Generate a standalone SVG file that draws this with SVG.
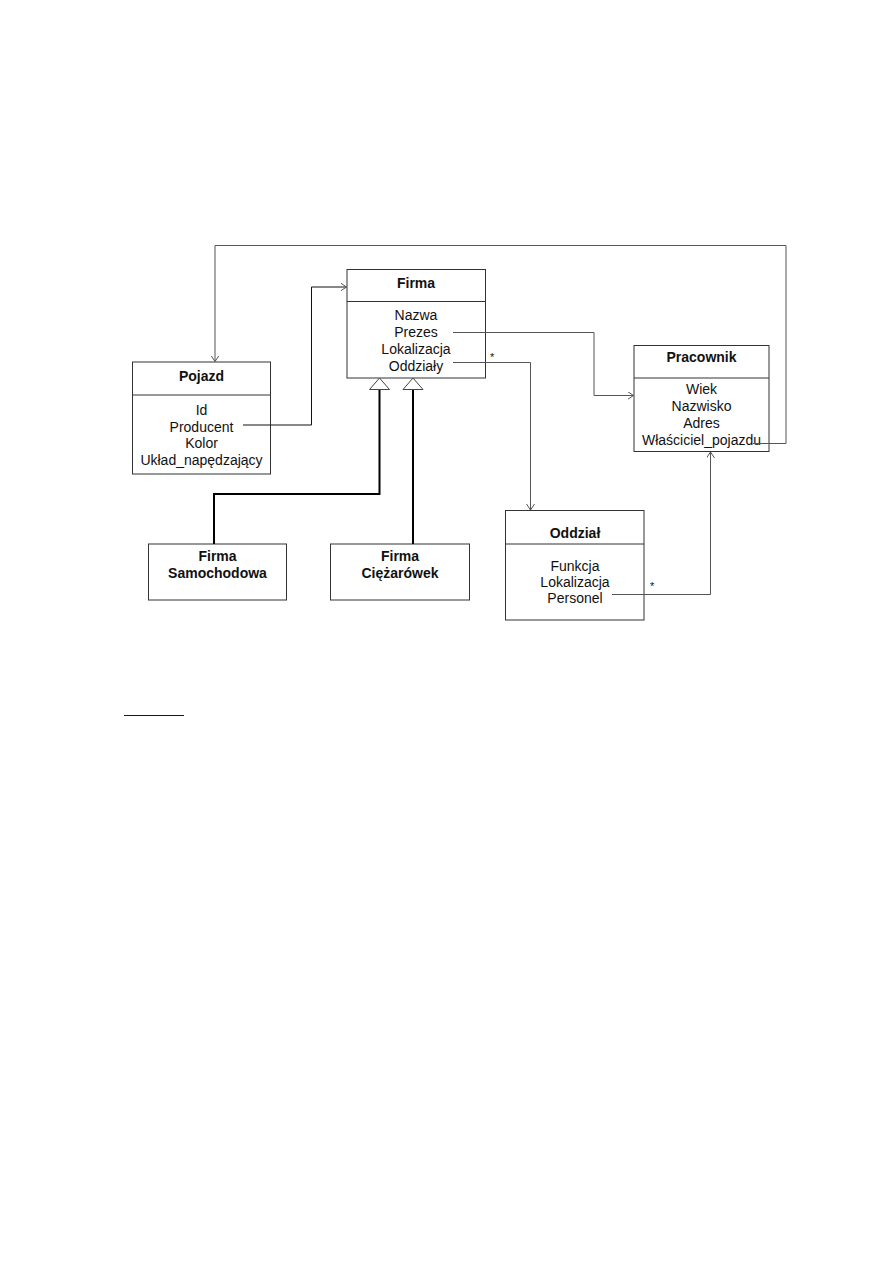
<svg xmlns="http://www.w3.org/2000/svg" width="893" height="1263" viewBox="0 0 893 1263">
<style>
.box{fill:#fff;stroke:#333;stroke-width:1}
.div{stroke:#333;stroke-width:1}
.t{font-family:"Liberation Sans",Arial,sans-serif;font-size:14px;fill:#111;text-anchor:middle}
.b{font-weight:bold}
.c{fill:none;stroke:#555;stroke-width:1}
.g{fill:none;stroke:#000;stroke-width:2}
.tri{fill:#fff;stroke:#444;stroke-width:1}
.s{font-family:"Liberation Sans",Arial,sans-serif;font-size:11px;fill:#111}
</style>
<defs>
<marker id="arr" markerWidth="8" markerHeight="10" refX="6" refY="4" orient="auto" markerUnits="userSpaceOnUse">
<path d="M0,0 L6,4 L0,8" fill="none" stroke="#555" stroke-width="1"/>
</marker>
</defs>
<rect width="893" height="1263" fill="#fff"/>
<g id="firma">
<rect class="box" x="347" y="269.5" width="138.5" height="108.5"/>
<line class="div" x1="347" y1="301.5" x2="485.5" y2="301.5"/>
<text class="t b" x="416" y="288">Firma</text>
<text class="t" x="416" y="320">Nazwa</text>
<text class="t" x="416" y="337">Prezes</text>
<text class="t" x="416" y="354">Lokalizacja</text>
<text class="t" x="416" y="371">Oddziały</text>
</g>
<g id="pojazd">
<rect class="box" x="132.5" y="362" width="138" height="112"/>
<line class="div" x1="132.5" y1="395" x2="270.5" y2="395"/>
<text class="t b" x="201.5" y="380.5">Pojazd</text>
<text class="t" x="201.5" y="415">Id</text>
<text class="t" x="201.5" y="431.5">Producent</text>
<text class="t" x="201.5" y="448">Kolor</text>
<text class="t" x="201.5" y="464.5">Układ_napędzający</text>
</g>
<g id="pracownik">
<rect class="box" x="634" y="345.5" width="135" height="106"/>
<line class="div" x1="634" y1="378" x2="769" y2="378"/>
<text class="t b" x="701.5" y="362">Pracownik</text>
<text class="t" x="701.5" y="394">Wiek</text>
<text class="t" x="701.5" y="411">Nazwisko</text>
<text class="t" x="701.5" y="428">Adres</text>
<text class="t" x="701.5" y="445">Właściciel_pojazdu</text>
</g>
<g id="oddzial">
<rect class="box" x="505.5" y="510.5" width="138.5" height="109.5"/>
<line class="div" x1="505.5" y1="544" x2="644" y2="544"/>
<text class="t b" x="575" y="537.5">Oddział</text>
<text class="t" x="575" y="571">Funkcja</text>
<text class="t" x="575" y="587">Lokalizacja</text>
<text class="t" x="575" y="603">Personel</text>
</g>
<g id="firma-samochodowa">
<rect class="box" x="148.5" y="544" width="138" height="56"/>
<text class="t b" x="217.5" y="561">Firma</text>
<text class="t b" x="217.5" y="578">Samochodowa</text>
</g>
<g id="firma-ciezarowek">
<rect class="box" x="330.5" y="544" width="139" height="56"/>
<text class="t b" x="400" y="561">Firma</text>
<text class="t b" x="400" y="578">Ciężarówek</text>
</g>
<g id="connectors">
<polyline class="c" points="753,443.5 786,443.5 786,245.5 215,245.5 215,361.5" marker-end="url(#arr)"/>
<polyline class="c" style="stroke:#111" points="243,425 311.5,425 311.5,287 346.5,287" marker-end="url(#arr)"/>
<polyline class="c" points="453,332.5 594,332.5 594,395.5 633.5,395.5" marker-end="url(#arr)"/>
<polyline class="c" points="453,362.5 530.5,362.5 530.5,510" marker-end="url(#arr)"/>
<polyline class="c" points="612,594.5 710.5,594.5 710.5,452" marker-end="url(#arr)"/>
<text class="s" x="490" y="361">*</text>
<text class="s" x="650" y="590">*</text>
<polyline class="g" points="379.5,389.5 379.5,494 214,494 214,544"/>
<polyline class="g" points="413,389.5 413,544"/>
<polygon class="tri" points="379.5,378 369.5,389.5 389.5,389.5"/>
<polygon class="tri" points="413,378 403,389.5 423,389.5"/>
</g>
<line x1="124" y1="715.5" x2="184" y2="715.5" stroke="#0000cc" stroke-width="1.2"/>
</svg>
